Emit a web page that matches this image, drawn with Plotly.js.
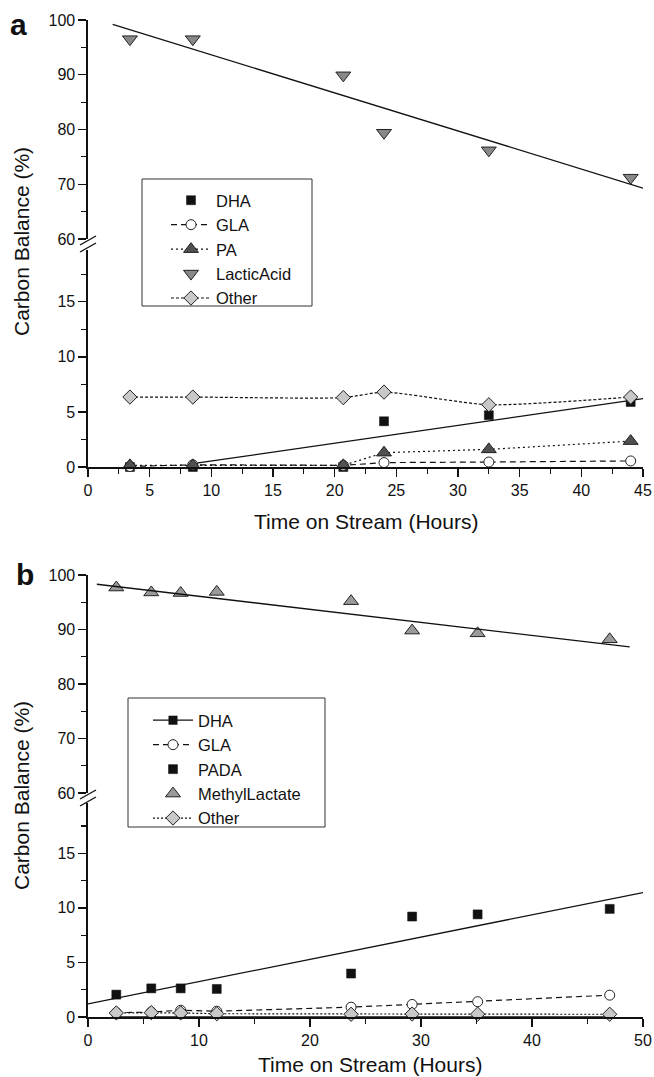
<!DOCTYPE html>
<html>
<head>
<meta charset="utf-8">
<script src="https://cdn.plot.ly/plotly-3.0.1.min.js"></script>
<style>html,body{margin:0;padding:0;background:#fff}#chart{width:654px;height:1077px}</style>
</head>
<body>
<div id="chart"></div>
<script>
// ---------- Panel a data ----------
var aTime = [3.4, 8.5, 20.7, 24.0, 32.5, 44.0];
var aDHA = [0.0, 0.0, 0.0, 4.15, 4.7, 5.9];
var aGLA = [0.05, 0.2, 0.15, 0.4, 0.45, 0.55];
var aPA = [0.15, 0.15, 0.15, 1.3, 1.6, 2.35];
var aLactic = [96.5, 96.5, 89.9, 79.4, 76.2, 71.2];
var aOther = [6.35, 6.35, 6.3, 6.8, 5.65, 6.35];
var aLacticFitX = [2.0, 45.0];
var aLacticFitY = [99.2, 69.3];
var aDHAFitX = [8.5, 45.0];
var aDHAFitY = [0.3, 6.2];

// ---------- Panel b data ----------
var bTime = [2.55, 5.7, 8.35, 11.6, 23.7, 29.2, 35.1, 47.0];
var bDHA = [0, 0, 0, 0, 0, 0, 0, 0];
var bGLA = [0.4, 0.45, 0.62, 0.53, 0.9, 1.15, 1.4, 2.0];
var bPADA = [2.05, 2.62, 2.62, 2.57, 3.98, 9.2, 9.4, 9.9];
var bMethyl = [97.7, 96.8, 96.7, 96.9, 95.2, 89.8, 89.3, 88.2];
var bOther = [0.37, 0.4, 0.37, 0.3, 0.25, 0.27, 0.26, 0.25];
var bMethylFitX = [0.8, 48.8];
var bMethylFitY = [98.3, 86.8];
var bPADAFitX = [0.0, 50.0];
var bPADAFitY = [1.2, 11.4];

var xTicksA = 5, xTicksB = 10;

// ---------- helpers ----------
var W = 654, H = 1077;
function px(v){ return v / W; }
function py(v){ return 1 - v / H; }
var FONT = 'Liberation Sans, Arial, Helvetica, sans-serif';
var lineBlack = {color: '#111', width: 1.3};
var edge = {color: '#222', width: 1};

var traces = [
  // panel a
  {x: aTime, y: aDHA, xaxis: 'x', yaxis: 'y', mode: 'markers', name: 'DHA', legend: 'legend',
   marker: {symbol: 'square', size: 9, color: '#111', line: {color: '#111', width: 0.5}}, cliponaxis: false},
  {x: aDHAFitX, y: aDHAFitY, xaxis: 'x', yaxis: 'y', mode: 'lines', showlegend: false,
   line: lineBlack, hoverinfo: 'skip'},
  {x: aTime, y: aGLA, xaxis: 'x', yaxis: 'y', mode: 'lines+markers', name: 'GLA', legend: 'legend',
   line: {color: '#111', width: 1.2, dash: '6px,4px'},
   marker: {symbol: 'circle', size: 10, color: '#fff', line: edge}, cliponaxis: false},
  {x: aTime, y: aPA, xaxis: 'x', yaxis: 'y', mode: 'lines+markers', name: 'PA', legend: 'legend',
   line: {color: '#111', width: 1.2, dash: '2px,3px'},
   marker: {symbol: 'triangle-up', size: 13, color: '#505050', line: edge}, cliponaxis: false},
  {x: aTime, y: aLactic, xaxis: 'x', yaxis: 'y2', mode: 'markers', name: 'LacticAcid', legend: 'legend',
   marker: {symbol: 'triangle-down', size: 13, color: '#888', line: edge}, cliponaxis: false},
  {x: aLacticFitX, y: aLacticFitY, xaxis: 'x', yaxis: 'y2', mode: 'lines', showlegend: false,
   line: lineBlack, hoverinfo: 'skip'},
  {x: aTime, y: aOther, xaxis: 'x', yaxis: 'y', mode: 'lines+markers', name: 'Other', legend: 'legend',
   line: {color: '#111', width: 1.2, dash: '3px,2px', shape: 'spline', smoothing: 0.6},
   marker: {symbol: 'diamond', size: 11, color: '#c8c8c8', line: edge}, cliponaxis: false},

  // panel b
  {x: bTime, y: bDHA, xaxis: 'x2', yaxis: 'y3', mode: 'lines+markers', name: 'DHA', legend: 'legend2',
   line: {color: '#111', width: 1.3}, marker: {symbol: 'square', size: 9, color: '#111'}, cliponaxis: true},
  {x: bTime, y: bGLA, xaxis: 'x2', yaxis: 'y3', mode: 'lines+markers', name: 'GLA', legend: 'legend2',
   line: {color: '#111', width: 1.2, dash: '6px,4px'},
   marker: {symbol: 'circle', size: 10, color: '#fff', line: edge}, cliponaxis: false},
  {x: bTime, y: bPADA, xaxis: 'x2', yaxis: 'y3', mode: 'markers', name: 'PADA', legend: 'legend2',
   marker: {symbol: 'square', size: 9, color: '#111', line: {color: '#111', width: 0.5}}, cliponaxis: false},
  {x: bPADAFitX, y: bPADAFitY, xaxis: 'x2', yaxis: 'y3', mode: 'lines', showlegend: false,
   line: lineBlack, hoverinfo: 'skip'},
  {x: bTime, y: bMethyl, xaxis: 'x2', yaxis: 'y4', mode: 'markers', name: 'MethylLactate', legend: 'legend2',
   marker: {symbol: 'triangle-up', size: 13, color: '#9a9a9a', line: edge}, cliponaxis: false},
  {x: bMethylFitX, y: bMethylFitY, xaxis: 'x2', yaxis: 'y4', mode: 'lines', showlegend: false,
   line: lineBlack, hoverinfo: 'skip'},
  {x: bTime, y: bOther, xaxis: 'x2', yaxis: 'y3', mode: 'lines+markers', name: 'Other', legend: 'legend2',
   line: {color: '#111', width: 1.2, dash: '2px,2px'},
   marker: {symbol: 'diamond', size: 11, color: '#c8c8c8', line: edge}, cliponaxis: false}
];

var tickFont = {family: FONT, size: 16, color: '#111'};
function xAx(range, dtick, anchor){
  return {domain: [px(88), px(643)], range: range, anchor: anchor, dtick: dtick, tick0: 0,
    showline: true, linecolor: '#111', linewidth: 1.6, ticks: 'outside', ticklen: 8, tickwidth: 1.4,
    tickcolor: '#111', tickfont: tickFont, showgrid: false, zeroline: false,
    minor: {dtick: dtick / 2, tick0: 0, ticks: 'outside', ticklen: 5, tickwidth: 1.2, tickcolor: '#111', showgrid: false}};
}
function yAx(range, dtick, domTop, domBot, anchor){
  return {domain: [py(domBot), py(domTop)], range: range, anchor: anchor, dtick: dtick, tick0: 0,
    showline: true, linecolor: '#111', linewidth: 1.6, ticks: 'outside', ticklen: 8, tickwidth: 1.4,
    tickcolor: '#111', tickfont: tickFont, showgrid: false, zeroline: false,
    minor: {dtick: dtick / 2, tick0: 0, ticks: 'outside', ticklen: 5, tickwidth: 1.2, tickcolor: '#111', showgrid: false}};
}

function breakMark(xc, yc){
  return [
    {type: 'rect', xref: 'paper', yref: 'paper', x0: px(xc - 4), x1: px(xc + 4), y0: py(yc + 4), y1: py(yc - 4),
     fillcolor: '#fff', line: {width: 0}},
    {type: 'line', xref: 'paper', yref: 'paper', x0: px(xc - 8), y0: py(yc + 1), x1: px(xc + 8), y1: py(yc - 8),
     line: {color: '#111', width: 1.4}},
    {type: 'line', xref: 'paper', yref: 'paper', x0: px(xc - 8), y0: py(yc + 8), x1: px(xc + 8), y1: py(yc - 1),
     line: {color: '#111', width: 1.4}}
  ];
}
function legendBox(l, t, r, b){
  return {type: 'rect', xref: 'paper', yref: 'paper', layer: 'above',
    x0: px(l), x1: px(r), y0: py(b), y1: py(t), fillcolor: '#fff', line: {color: '#333', width: 1}};
}

var titleFont = {family: FONT, size: 21, color: '#111'};
var legendBase = {bgcolor: 'rgba(0,0,0,0)', borderwidth: 0,
  font: {family: FONT, size: 16.5, color: '#111'}, xanchor: 'left', yanchor: 'top',
  traceorder: 'normal', itemwidth: 40, tracegroupgap: 0};

function ann(text, x, y, extra){
  return Object.assign({text: text, xref: 'paper', yref: 'paper', x: px(x), y: py(y),
    xanchor: 'center', yanchor: 'middle', showarrow: false, font: titleFont}, extra || {});
}

var layout = {
  width: W, height: H, margin: {l: 0, r: 0, t: 0, b: 0},
  paper_bgcolor: '#fff', plot_bgcolor: 'rgba(0,0,0,0)',
  font: {family: FONT, color: '#111'},
  showlegend: true,
  xaxis: xAx([0, 45], xTicksA, 'y'),
  yaxis: yAx([0, 19.7], 5, 250, 467, 'x'),
  yaxis2: yAx([60, 100], 10, 20, 239, 'x'),
  xaxis2: xAx([0, 50], xTicksB, 'y3'),
  yaxis3: yAx([0, 19.6], 5, 803, 1017, 'x2'),
  yaxis4: yAx([60, 100], 10, 575, 793, 'x2'),
  legend: Object.assign({}, legendBase, {x: px(143), y: py(183), indentation: 23}),
  legend2: Object.assign({}, legendBase, {x: px(129), y: py(703), indentation: 19}),
  shapes: [].concat(breakMark(88, 244), breakMark(88, 798),
    [legendBox(142, 179, 312, 306), legendBox(128, 698, 325, 827)]),
  annotations: [
    ann('<b>a</b>', 8, 6, {xanchor: 'left', yanchor: 'top', font: {family: FONT, size: 30, color: '#111'}}),
    ann('<b>b</b>', 14, 556, {xanchor: 'left', yanchor: 'top', font: {family: FONT, size: 30, color: '#111'}}),
    ann('Carbon Balance (%)', 21, 242, {textangle: -90}),
    ann('Carbon Balance (%)', 21, 796, {textangle: -90}),
    ann('Time on Stream (Hours)', 366, 521),
    ann('Time on Stream (Hours)', 370, 1064)
  ]
};

Plotly.newPlot('chart', traces, layout, {displayModeBar: false, staticPlot: true});
</script>
</body>
</html>
